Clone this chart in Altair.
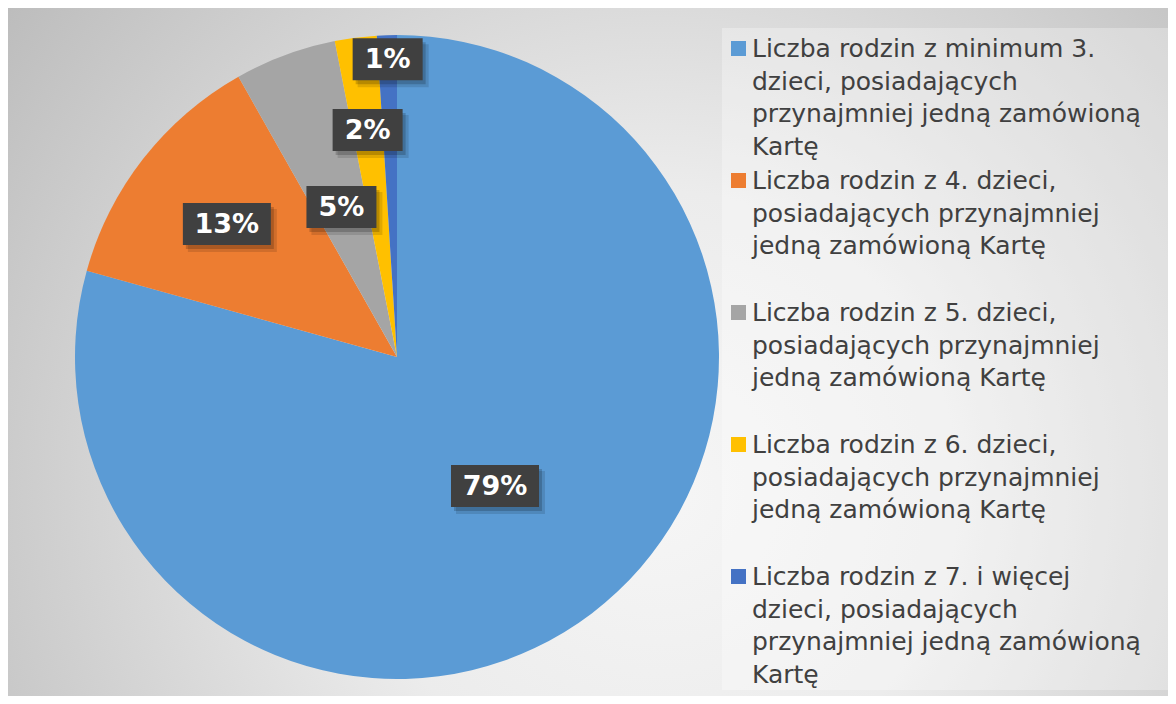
import altair as alt
import pandas as pd

# ---- data ----
legend_lines = [
    ["Liczba rodzin z minimum 3.", "dzieci, posiadających", "przynajmniej jedną zamówioną", "Kartę"],
    ["Liczba rodzin z 4. dzieci,", "posiadających przynajmniej", "jedną zamówioną Kartę"],
    ["Liczba rodzin z 5. dzieci,", "posiadających przynajmniej", "jedną zamówioną Kartę"],
    ["Liczba rodzin z 6. dzieci,", "posiadających przynajmniej", "jedną zamówioną Kartę"],
    ["Liczba rodzin z 7. i więcej", "dzieci, posiadających", "przynajmniej jedną zamówioną", "Kartę"],
]
values = [79.4, 12.5, 5.1, 2.1, 1.0]
labels = ["79%", "13%", "5%", "2%", "1%"]
colors = ["#5B9BD5", "#ED7D31", "#A5A5A5", "#FFC000", "#4472C4"]

# ---- style constants ----
W, H = 1160, 688
CX, CY, R = 389, 349, 322
LABEL_R = [162, 216, 160, 229, 298]  # radial distance of each label box (style)
TOTAL = sum(values)

categories = ["\n".join(l) for l in legend_lines]
df = pd.DataFrame({
    "idx": list(range(len(values))),
    "category": categories,
    "value": values,
    "label": labels,
})

color_scale = alt.Scale(domain=categories, range=colors)

# background with radial gradient
bg = alt.Chart(pd.DataFrame({"a": [0]})).mark_rect(
    fill=alt.RadialGradient(
        gradient="radial",
        stops=[
            alt.GradientStop(offset=0, color="#f6f6f6"),
            alt.GradientStop(offset=0.35, color="#ececec"),
            alt.GradientStop(offset=1, color="#b8b8b8"),
        ],
        x1=0.56, y1=0.62, r1=0, x2=0.56, y2=0.62, r2=0.74,
    )
).encode(x=alt.value(0), x2=alt.value(W), y=alt.value(0), y2=alt.value(H))

legend_box = alt.Chart(pd.DataFrame({"a": [0]})).mark_rect(
    color="white", opacity=0.3
).encode(x=alt.value(714), x2=alt.value(W), y=alt.value(20), y2=alt.value(682))

pie = alt.Chart(df).mark_arc(radius=R, x=CX, y=CY).encode(
    theta=alt.Theta("value:Q", stack=True),
    color=alt.Color("category:N", scale=color_scale, legend=None),
    order=alt.Order("idx:Q"),
)

rr_expr = "[" + ",".join(str(v) for v in LABEL_R) + "][datum.idx]"
lab_base = alt.Chart(df).transform_window(
    cum="sum(value)", sort=[alt.SortField("idx", order="ascending")]
).transform_calculate(
    mid=f"(datum.cum - datum.value/2) / {TOTAL} * 2 * PI",
    rr=rr_expr,
).transform_calculate(
    lx="datum.rr * sin(datum.mid)",
    ly="-datum.rr * cos(datum.mid)",
    w="18 * length(datum.label) + 34",
).transform_calculate(
    bx1="datum.lx - datum.w/2",
    bx2="datum.lx + datum.w/2",
    by1="datum.ly - 21",
    by2="datum.ly + 21",
)

xs = alt.Scale(domain=[-R, R], range=[CX - R, CX + R])
ys = alt.Scale(domain=[-R, R], range=[CY - R, CY + R])

def box_layer(**kw):
    return lab_base.mark_rect(**kw).encode(
        x=alt.X("bx1:Q", scale=xs, axis=None),
        x2="bx2:Q",
        y=alt.Y("by1:Q", scale=ys, axis=None),
        y2="by2:Q",
    )

shadow1 = box_layer(color="black", opacity=0.12, xOffset=5, x2Offset=6, yOffset=6, y2Offset=7)
shadow2 = box_layer(color="black", opacity=0.18, xOffset=3, x2Offset=3, yOffset=4, y2Offset=4)
boxes = box_layer(color="#404040")

lab_text = lab_base.mark_text(
    font="DejaVu Sans", fontWeight="bold", fontSize=27, color="white",
    align="center", baseline="middle", dy=1,
).encode(
    x=alt.X("lx:Q", scale=xs, axis=None),
    y=alt.Y("ly:Q", scale=ys, axis=None),
    text="label:N",
)

ly_scale = alt.Scale(domain=[0, len(values) - 1], range=[49, 577])
leg_sq = alt.Chart(df).mark_square(size=225, opacity=1, yOffset=-8.5).encode(
    x=alt.value(730.5),
    y=alt.Y("idx:Q", scale=ly_scale, axis=None),
    color=alt.Color("category:N", scale=color_scale, legend=None),
)
leg_txt = alt.Chart(df).mark_text(
    font="DejaVu Sans", fontSize=25, color="#404040", align="left",
    baseline="alphabetic", lineBreak="\n", lineHeight=32.5,
).encode(
    x=alt.value(744),
    y=alt.Y("idx:Q", scale=ly_scale, axis=None),
    text="category:N",
)

labels_layer = alt.layer(shadow1, shadow2, boxes, lab_text)
legend_layer = alt.layer(leg_sq, leg_txt)

chart = alt.layer(bg, legend_box, pie, labels_layer, legend_layer).resolve_scale(
    x="independent", y="independent"
).properties(
    width=W, height=H, padding=0,
    autosize=alt.AutoSizeParams(type="none"),
).configure_view(stroke=None)

chart.save("out.html", embed_options={"renderer": "svg", "actions": False})
